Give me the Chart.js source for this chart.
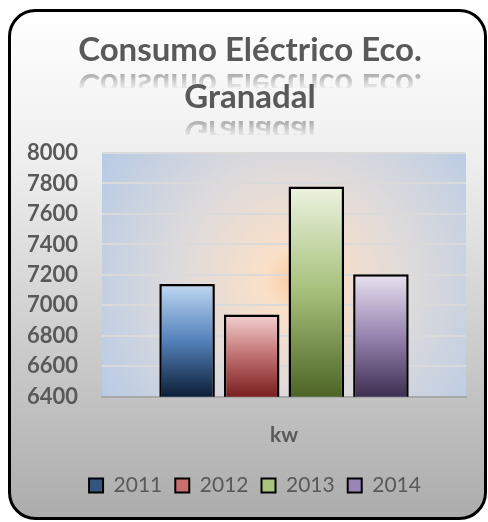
<!DOCTYPE html>
<html>
<head>
<meta charset="utf-8">
<script src="https://cdn.jsdelivr.net/npm/chart.js@4"></script>
<style>
  html, body { margin: 0; padding: 0; background: #fff; }
  canvas { display: block; }
</style>
</head>
<body>
<canvas id="consumoChart" width="488" height="522"></canvas>
<script>
// datos
const titleLines = ["Consumo Eléctrico Eco.", "Granadal"];
const categories = ["kw"];
const years = ["2011", "2012", "2013", "2014"];
const consumo = [7140, 6940, 7780, 7205];
const yTicks = [6400, 6600, 6800, 7000, 7200, 7400, 7600, 7800, 8000];

// colores de cada barra: arriba, medio, abajo
const barStops = [
  ["#c0d8f3", "#5482bb", "#0c1d36"],
  ["#f4d2d2", "#c07070", "#7a1f1f"],
  ["#edf3e0", "#a5c07a", "#4d6426"],
  ["#e8e2f0", "#9884b0", "#3d2f52"]
];
const legendColors = ["#34557e", "#c9706e", "#a9c47c", "#9a86b6"];

const GRAY = "#595959";
const FONT = "Lato, 'Open Sans', sans-serif";

function barGradient(ctx, i) {
  const chart = ctx.chart;
  const area = chart.chartArea;
  if (!area) return barStops[i][1];
  const top = chart.scales.y.getPixelForValue(consumo[i]);
  const g = chart.ctx.createLinearGradient(0, top, 0, area.bottom);
  g.addColorStop(0, barStops[i][0]);
  g.addColorStop(0.5, barStops[i][1]);
  g.addColorStop(1, barStops[i][2]);
  return g;
}

// marco redondeado, fondo del area y titulo con reflejo
const decoPlugin = {
  id: "deco",
  afterLayout(chart) {
    // la leyenda del original esta algo corrida a la derecha
    chart.legend.left += 9;
    chart.legend.right += 9;
  },
  beforeDraw(chart) {
    const c = chart.ctx;
    const area = chart.chartArea;
    c.save();
    c.fillStyle = "#ffffff";
    c.fillRect(0, 0, chart.width, chart.height);

    const x = 9.5, y = 10.5, w = 476, h = 508, r = 26;
    const bg = c.createLinearGradient(0, y, 0, y + h);
    bg.addColorStop(0, "#ffffff");
    bg.addColorStop(0.3, "#eeeeee");
    bg.addColorStop(1, "#acacac");
    c.beginPath();
    c.roundRect(x, y, w, h, r);
    c.fillStyle = bg;
    c.fill();
    c.lineWidth = 3;
    c.strokeStyle = "#000000";
    c.stroke();

    const cx = (area.left + area.right) / 2 + 10;
    const cy = area.top + (area.bottom - area.top) * 0.52;
    const rg = c.createRadialGradient(cx, cy, 0, cx, cy, 240);
    rg.addColorStop(0, "#fccda2");
    rg.addColorStop(0.13, "#fae0c9");
    rg.addColorStop(0.5, "#dcdadc");
    rg.addColorStop(1, "#b3c9e6");
    c.fillStyle = rg;
    c.fillRect(area.left, area.top, area.right - area.left, area.bottom - area.top);
    c.restore();
  },
  afterDraw(chart) {
    const c = chart.ctx;
    const mid = 250;
    const baselines = [61, 108];
    c.save();
    c.font = "bold 33px " + FONT;
    c.textAlign = "center";
    c.textBaseline = "alphabetic";
    titleLines.forEach((t, k) => {
      const b = baselines[k];
      c.fillStyle = GRAY;
      c.fillText(t, mid, b);

      // reflejo invertido
      const axis = b + 6.5;
      c.save();
      c.beginPath();
      c.rect(0, b + 12, chart.width, 15);
      c.clip();
      c.translate(0, axis * 2);
      c.scale(1, -1);
      const rg = c.createLinearGradient(0, b, 0, b - 15);
      rg.addColorStop(0, "rgba(110,110,110,0.55)");
      rg.addColorStop(1, "rgba(110,110,110,0.05)");
      c.fillStyle = rg;
      c.fillText(t, mid, b);
      c.restore();
    });
    c.restore();
  }
};

new Chart(document.getElementById("consumoChart"), {
  type: "bar",
  data: {
    labels: categories,
    datasets: years.map((yr, i) => ({
      label: yr,
      data: [consumo[i]],
      backgroundColor: ctx => barGradient(ctx, i),
      borderColor: "#000000",
      borderWidth: 2.5,
      borderSkipped: false
    }))
  },
  options: {
    responsive: false,
    animation: false,
    devicePixelRatio: 1,
    layout: { padding: { top: 153, left: 26, right: 22, bottom: 16 } },
    datasets: { bar: { categoryPercentage: 0.71, barPercentage: 0.86 } },
    scales: {
      y: {
        min: 6400,
        max: 8000,
        afterBuildTicks: axis => { axis.ticks = yTicks.map(v => ({ value: v })); },
        afterFit: axis => { axis.width = 76; },
        ticks: {
          color: GRAY,
          font: { family: FONT, size: 22, weight: "bold" },
          padding: 24,
          callback: v => String(v)
        },
        grid: { color: "#dadada", lineWidth: 2, drawTicks: false },
        border: { display: false }
      },
      x: {
        ticks: { display: false },
        grid: { display: false, drawTicks: false },
        border: { color: "#a8a8a8", width: 2 },
        title: {
          display: true,
          text: "kw",
          color: GRAY,
          font: { family: FONT, size: 21, weight: "bold" },
          padding: { top: 26, bottom: 14 }
        }
      }
    },
    plugins: {
      title: { display: false },
      tooltip: { enabled: false },
      legend: {
        position: "bottom",
        labels: {
          color: GRAY,
          font: { family: FONT, size: 21 },
          boxWidth: 14,
          boxHeight: 14,
          padding: 13,
          generateLabels: () => years.map((yr, i) => ({
            text: yr,
            fillStyle: legendColors[i],
            strokeStyle: "#000000",
            lineWidth: 2,
            fontColor: GRAY,
            datasetIndex: i
          }))
        }
      }
    }
  },
  plugins: [decoPlugin]
});
</script>
</body>
</html>
